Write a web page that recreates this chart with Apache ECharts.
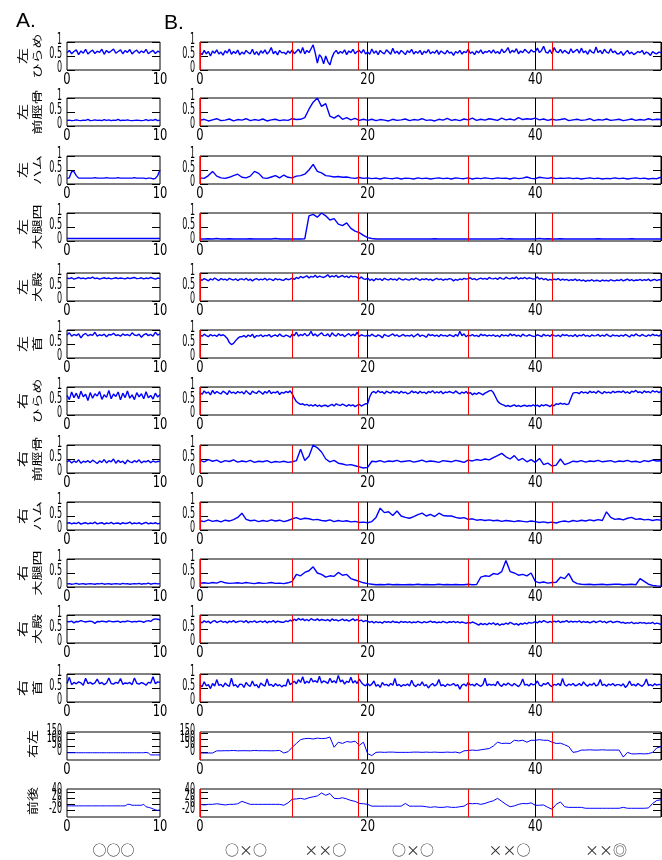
<!DOCTYPE html>
<html><head><meta charset="utf-8">
<script src="https://cdn.jsdelivr.net/npm/echarts@6/dist/echarts.min.js"></script>
<style>html,body{margin:0;padding:0;background:#fff}#c{width:662px;height:860px}</style>
</head><body><div id="c"></div>
<script>
// ---------- data ----------
// left panels: samples every 0.25 s over 0..10 s; right panels: evenly spaced samples over 0..55 s
const spanA = 10, spanB = 55;
const eventTimes = [0, 11, 18.9, 31.95, 41.9];
const segmentLabels = ['○×○', '××○', '○×○', '××○', '××◎'];
const trialLabelA = '○○○';
const rowNames = [['左','ひらめ'],['左','前脛骨'],['左','ハム'],['左','大腿四'],['左','大殿'],['左','首'],
                  ['右','ひらめ'],['右','前脛骨'],['右','ハム'],['右','大腿四'],['右','大殿'],['右','首'],['右左'],['前後']];
const ticksUnit = [0, 0.5, 1];
const ticksSway = [0, 50, 100, 150];
const ticksAP = [-20, 0, 20, 40];
const xTicksA = [0, 10];
const xTicksB = [0, 20, 40];

// left column (A), 41 samples each
const aL1 = [.62,.70,.58,.66,.72,.55,.68,.60,.74,.57,.65,.71,.59,.67,.63,.74,.56,.70,.62,.68,.75,.60,.66,.72,.58,.69,.63,.73,.57,.66,.71,.60,.68,.62,.74,.58,.65,.70,.59,.67,.64];
const aL2 = [.20,.21,.19,.20,.22,.20,.19,.21,.20,.24,.19,.20,.22,.20,.21,.19,.23,.20,.22,.19,.21,.20,.24,.19,.21,.20,.22,.20,.19,.20,.21,.20,.19,.20,.23,.19,.22,.20,.24,.19,.21];
const aL3 = [.20,.22,.45,.44,.30,.21,.21,.21,.21,.21,.21,.21,.23,.21,.21,.21,.21,.23,.21,.21,.21,.21,.23,.21,.21,.21,.21,.21,.21,.23,.21,.21,.21,.21,.19,.21,.21,.18,.20,.30,.50];
const aL4 = [.09,.09,.09,.09,.09,.09,.09,.09,.09,.09,.09,.09,.09,.09,.09,.09,.09,.09,.09,.09,.09,.09,.09,.09,.09,.09,.09,.09,.09,.09,.09,.09,.09,.09,.09,.09,.09,.09,.09,.09,.09];
const aL5 = [.82,.80,.83,.78,.81,.84,.80,.82,.79,.83,.81,.85,.80,.82,.78,.81,.83,.80,.82,.79,.81,.83,.80,.82,.81,.79,.83,.80,.82,.84,.80,.81,.83,.79,.82,.80,.84,.81,.78,.82,.80];
const aL6 = [.82,.90,.78,.84,.80,.86,.72,.83,.88,.79,.84,.81,.92,.78,.83,.80,.85,.76,.84,.82,.88,.80,.83,.78,.86,.81,.84,.79,.90,.82,.80,.85,.74,.83,.87,.80,.84,.78,.92,.82,.86];
const aR1 = [.70,.55,.82,.62,.78,.58,.85,.65,.74,.52,.80,.60,.76,.68,.84,.56,.72,.63,.88,.58,.75,.66,.82,.54,.78,.62,.86,.60,.72,.55,.80,.65,.76,.58,.83,.62,.70,.57,.78,.64,.72];
const aR2 = [.40,.45,.36,.43,.38,.47,.35,.42,.39,.44,.37,.46,.40,.34,.43,.38,.48,.36,.44,.40,.50,.35,.45,.38,.42,.33,.46,.40,.37,.44,.39,.47,.36,.42,.40,.45,.37,.43,.39,.41,.42];
const aR3 = [.24,.26,.22,.25,.23,.27,.21,.24,.26,.22,.25,.23,.28,.22,.24,.26,.21,.25,.23,.27,.22,.24,.25,.21,.26,.23,.24,.28,.22,.25,.23,.26,.21,.24,.27,.22,.25,.23,.26,.22,.24];
const aR4 = [.11,.12,.10,.11,.13,.10,.11,.12,.10,.11,.12,.11,.10,.12,.11,.13,.10,.11,.12,.10,.11,.12,.11,.10,.13,.11,.12,.10,.11,.12,.11,.13,.10,.12,.11,.14,.10,.12,.13,.11,.12];
const aR5 = [.77,.76,.78,.72,.77,.76,.80,.77,.75,.77,.78,.76,.70,.77,.76,.78,.77,.75,.79,.77,.76,.77,.78,.74,.77,.76,.79,.77,.75,.77,.76,.78,.77,.74,.78,.80,.77,.84,.86,.85,.83];
const aR6 = [.66,.88,.62,.70,.65,.72,.68,.60,.85,.66,.70,.64,.68,.82,.65,.70,.62,.68,.86,.66,.64,.70,.67,.84,.63,.68,.66,.70,.62,.86,.67,.64,.69,.66,.60,.70,.68,.90,.65,.72,.70];
const aSway = [-3,-3,-3,-3,-3,-3,-3,-3,-3,-3,-3,-3,-3,-3,-3,-3,-3,-3,-3,-3,-3,-3,-3,-3,-3,-3,-3,-3,-3,-3,-3,-3,-3,-3,0,-5,-20,-20,-20,-20,-20];
const aAP = [-5,-5,-5,-5,-5,-5,-5,-5,-5,-5,-5,-5,-5,-5,-5,-5,-5,-5,-5,-5,-5,-5,-5,-5,-5,-5,0,0,-3,-3,-3,-3,-3,0,-8,-10,-12,-15,-18,-20,-18];

// right column (B): 221 samples (every 0.25 s) for the noisiest traces, 111 samples (every 0.5 s) otherwise
const bL1 = [.62,.55,.70,.58,.66,.50,.68,.60,.72,.57,.64,.53,.69,.61,.75,.56,.66,.59,.71,.54,
 .64,.57,.70,.62,.58,.74,.55,.66,.53,.69,.60,.72,.57,.65,.80,.58,.67,.54,.70,.61,
 .63,.56,.68,.60,.72,.58,.66,.74,.60,.80,.58,.70,.62,.76,.90,.60,.25,.55,.45,.22,
 .50,.30,.18,.45,.62,.70,.58,.66,.60,.72,.55,.68,.62,.74,.58,.66,.70,.60,.73,.57,
 .64,.56,.75,.60,.68,.55,.70,.62,.58,.72,.64,.56,.78,.60,.67,.57,.70,.63,.55,.69,
 .62,.74,.57,.66,.60,.70,.55,.67,.61,.73,.58,.65,.60,.71,.56,.68,.62,.58,.70,.60,
 .64,.52,.66,.60,.70,.57,.66,.62,.74,.59,.65,.55,.68,.61,.72,.58,.66,.63,.70,.60,
 .72,.60,.66,.58,.75,.62,.68,.80,.60,.70,.64,.76,.58,.68,.62,.74,.66,.60,.72,.65,
 .66,.78,.62,.70,.85,.64,.60,.72,.58,.80,.66,.62,.74,.60,.70,.64,.58,.76,.62,.68,
 .74,.60,.78,.62,.68,.56,.72,.64,.60,.82,.62,.70,.58,.74,.64,.60,.76,.62,.68,.58,
 .58,.66,.52,.62,.70,.58,.64,.55,.60,.66,.62,.70,.56,.64,.60,.52,.66,.60,.58,.64, .62];
const bL2 = [.20,.24,.18,.22,.26,.19,.21,.25,.18,.23, .21,.26,.19,.23,.20,.25,.18,.22,.24,.19, .22,.20,.26,.23,.24,.30,.60,.85,1.0,.70, .80,.35,.28,.38,.24,.30,.22,.27,.20,.24, .20,.24,.19,.23,.21,.18,.24,.20,.22,.25, .19,.23,.21,.26,.20,.22,.18,.24,.21,.27, .20,.23,.19,.25,.22,.28,.20,.24,.21,.26, .23,.20,.28,.22,.25,.21,.30,.23,.26,.24, .28,.22,.25,.20,.24,.21,.23,.26,.19,.22, .24,.20,.22,.26,.19,.23,.21,.25,.20,.22, .24,.19,.22,.25,.20,.23,.21,.26,.22,.24, .23];
const bL3 = [.22,.20,.30,.45,.28,.22,.20,.24,.30,.35, .24,.22,.28,.45,.38,.22,.20,.25,.30,.22, .32,.24,.22,.28,.30,.35,.50,.70,.45,.40, .30,.28,.25,.27,.24,.25,.22,.20,.23,.20, .22,.19,.21,.18,.22,.20,.19,.22,.18,.21, .20,.18,.22,.19,.21,.18,.20,.22,.19,.21, .18,.22,.20,.19,.22,.18,.21,.19,.22,.20, .19,.22,.20,.21,.18,.22,.19,.21,.25,.20, .19,.24,.22,.20,.23,.19,.21,.20,.22,.19, .21,.18,.20,.22,.19,.21,.18,.20,.19,.22, .19,.21,.18,.20,.22,.19,.21,.18,.20,.19, .24];
const bL4 = [.07,.07,.08,.07,.09,.07,.07,.08,.07,.07, .07,.07,.08,.07,.07,.07,.07,.07,.09,.07, .07,.07,.07,.07,.07,.08,.90,.95,.85,1.0, .90,.75,.80,.60,.55,.65,.45,.35,.30,.20, .12,.09,.07,.07,.07,.07,.07,.07,.07,.07, .07,.07,.07,.07,.07,.07,.08,.07,.07,.07, .07,.07,.07,.07,.07,.07,.07,.07,.07,.07, .07,.07,.09,.07,.08,.07,.07,.07,.07,.07, .07,.09,.07,.08,.07,.07,.08,.07,.07,.07, .07,.07,.07,.07,.07,.08,.07,.07,.07,.07, .07,.07,.07,.08,.07,.07,.07,.07,.07,.07, .07];
const bL5 = [.78,.74,.80,.76,.72,.79,.75,.82,.77,.73,.80,.76,.78,.74,.81,.77,.75,.79,.73,.78,
 .79,.75,.81,.74,.78,.72,.77,.80,.75,.78,.76,.81,.74,.79,.77,.73,.80,.76,.78,.75,
 .74,.80,.76,.78,.82,.77,.84,.80,.88,.83,.86,.90,.82,.88,.85,.92,.84,.89,.86,.84,
 .88,.94,.85,.90,.86,.92,.84,.88,.91,.85,.89,.83,.90,.86,.88,.84,.80,.86,.79,.77,
 .82,.74,.78,.72,.80,.76,.79,.73,.81,.77,.75,.80,.76,.78,.74,.82,.77,.75,.79,.76,
 .75,.80,.76,.82,.78,.74,.79,.76,.80,.75,.78,.73,.77,.81,.76,.79,.74,.78,.76,.80,
 .78,.72,.77,.74,.79,.76,.81,.78,.80,.83,.77,.80,.75,.79,.82,.78,.81,.77,.84,.80,
 .79,.82,.77,.84,.80,.78,.85,.81,.79,.83,.80,.86,.78,.82,.80,.84,.79,.83,.81,.78,
 .80,.86,.78,.82,.76,.80,.74,.77,.75,.78,.76,.80,.74,.78,.75,.77,.73,.76,.74,.78,
 .73,.76,.72,.75,.70,.74,.72,.76,.71,.74,.73,.70,.75,.72,.74,.71,.76,.73,.72,.75,
 .73,.77,.72,.75,.78,.73,.76,.72,.75,.74,.77,.73,.76,.74,.78,.72,.75,.77,.73,.76, .76];
const bL6 = [.82,.78,.85,.80,.76,.84,.79,.82,.77,.85,.80,.83,.78,.70,.55,.48,.52,.62,.70,.76,
 .76,.80,.74,.82,.77,.85,.72,.80,.78,.83,.76,.81,.79,.84,.75,.80,.82,.77,.86,.79,
 .76,.82,.79,.74,.85,.80,.92,.78,.84,.80,.88,.79,.83,.95,.80,.86,.78,.84,.90,.81,
 .80,.86,.76,.90,.82,.78,.88,.80,.84,.76,.82,.87,.79,.85,.80,.92,.77,.83,.80,.78,
 .82,.78,.85,.80,.76,.83,.79,.72,.84,.80,.77,.82,.86,.79,.83,.76,.80,.84,.78,.81,
 .78,.83,.75,.81,.86,.77,.82,.79,.74,.85,.80,.83,.78,.82,.76,.84,.79,.81,.77,.83,
 .80,.76,.84,.78,.95,.80,.86,.76,.82,.79,.84,.78,.81,.76,.85,.80,.83,.78,.82,.79,
 .83,.77,.81,.75,.84,.79,.82,.78,.86,.80,.84,.78,.82,.76,.85,.80,.78,.83,.80,.77,
 .78,.83,.80,.76,.85,.79,.82,.77,.84,.80,.78,.82,.76,.84,.80,.83,.78,.81,.77,.84,
 .76,.82,.79,.85,.78,.81,.76,.83,.79,.80,.84,.77,.82,.78,.85,.80,.76,.83,.79,.81,
 .77,.82,.78,.84,.80,.75,.83,.79,.86,.81,.78,.84,.80,.77,.83,.79,.85,.80,.82,.78, .84];
const bR1 = [.80,.74,.86,.78,.82,.72,.88,.76,.84,.79,.75,.85,.80,.73,.87,.78,.82,.76,.84,.79,
 .83,.75,.87,.79,.73,.85,.80,.77,.86,.81,.74,.84,.78,.88,.76,.82,.79,.85,.73,.81,
 .78,.84,.80,.86,.76,.60,.48,.42,.38,.40,.35,.38,.33,.36,.32,.37,.31,.35,.30,.34,
 .35,.30,.34,.38,.32,.40,.36,.34,.39,.35,.31,.37,.33,.36,.30,.34,.38,.32,.36,.40,
 .40,.65,.80,.84,.78,.87,.80,.83,.76,.85,.81,.78,.86,.80,.83,.77,.85,.79,.82,.76,
 .78,.86,.80,.83,.77,.85,.79,.82,.76,.84,.80,.87,.78,.83,.79,.85,.76,.82,.80,.84,
 .81,.78,.86,.80,.75,.82,.78,.84,.76,.80,.72,.78,.74,.80,.76,.72,.78,.82,.86,.88,
 .80,.65,.50,.42,.38,.35,.31,.34,.30,.33,.36,.31,.34,.30,.33,.35,.31,.34,.32,.36,
 .32,.35,.30,.36,.33,.37,.34,.30,.36,.33,.40,.38,.42,.39,.41,.37,.40,.60,.78,.80,
 .80,.76,.84,.79,.82,.77,.85,.80,.83,.78,.86,.81,.76,.84,.79,.82,.78,.85,.80,.83,
 .84,.81,.86,.79,.83,.77,.85,.82,.88,.80,.83,.78,.86,.81,.84,.79,.87,.82,.85,.80, .84];
const bR2 = [.45,.40,.48,.42,.46,.38,.44,.41,.47,.39, .43,.40,.45,.38,.42,.40,.44,.37,.41,.39, .42,.38,.40,.44,.85,.45,.60,1.0,.90,.75, .50,.40,.45,.35,.32,.28,.30,.26,.22,.18, .20,.42,.40,.44,.39,.43,.41,.45,.40,.42, .44,.39,.42,.46,.40,.43,.41,.38,.44,.42, .40,.45,.42,.38,.46,.43,.48,.45,.50,.47, .55,.62,.70,.58,.50,.62,.45,.52,.40,.48, .38,.52,.30,.35,.25,.28,.50,.30,.35,.42, .40,.44,.39,.43,.41,.45,.40,.42,.44,.39, .43,.41,.45,.40,.42,.38,.44,.41,.46,.43, .44];
const bR3 = [.33,.30,.36,.31,.34,.29,.35,.32,.37,.45, .60,.38,.33,.35,.30,.34,.31,.36,.32,.35, .30,.34,.40,.44,.38,.42,.40,.36,.38,.34, .32,.36,.30,.34,.31,.33,.29,.31,.27,.28, .26,.30,.45,.78,.62,.65,.52,.68,.50,.45, .42,.48,.55,.60,.50,.56,.48,.60,.52,.50, .50,.45,.42,.44,.38,.40,.35,.37,.34,.36, .33,.35,.31,.34,.32,.30,.33,.31,.29,.32, .30,.27,.29,.26,.28,.25,.30,.32,.29,.34, .31,.35,.32,.36,.33,.37,.34,.65,.45,.38, .40,.36,.42,.45,.38,.40,.36,.38,.34,.37, .35];
const bR4 = [.14,.15,.13,.16,.14,.20,.15,.13,.14,.15, .13,.16,.14,.12,.15,.13,.14,.16,.13,.14, .12,.15,.20,.45,.40,.52,.58,.72,.50,.45, .35,.40,.38,.52,.42,.45,.30,.25,.20,.15, .12,.10,.08,.09,.08,.10,.08,.09,.08,.08, .09,.08,.10,.08,.09,.08,.08,.10,.08,.09, .08,.09,.08,.08,.10,.08,.09,.35,.40,.38, .48,.45,.55,.95,.55,.50,.42,.45,.40,.50, .20,.15,.18,.14,.16,.17,.35,.30,.48,.20, .12,.10,.09,.10,.08,.09,.10,.08,.09,.10, .10,.08,.09,.10,.08,.30,.20,.10,.06,.04, .03];
const bR5 = [.76,.72,.79,.74,.78,.71,.77,.80,.73,.76,.79,.74,.77,.72,.78,.75,.80,.73,.76,.78,
 .78,.74,.80,.72,.77,.75,.79,.73,.76,.78,.74,.79,.72,.77,.75,.80,.73,.78,.76,.74,
 .74,.79,.76,.82,.78,.85,.80,.88,.82,.86,.80,.84,.79,.87,.83,.81,.86,.80,.84,.82,
 .80,.84,.78,.86,.81,.83,.79,.82,.85,.80,.83,.78,.82,.86,.80,.84,.79,.82,.76,.80,
 .78,.74,.77,.72,.76,.73,.75,.71,.77,.74,.76,.73,.78,.74,.75,.72,.77,.74,.76,.73,
 .76,.72,.75,.73,.77,.74,.72,.76,.73,.75,.78,.74,.76,.72,.75,.73,.77,.74,.72,.76,
 .74,.77,.73,.76,.72,.75,.73,.70,.74,.71,.75,.72,.68,.64,.70,.66,.69,.65,.71,.67,
 .72,.65,.70,.63,.68,.66,.71,.67,.74,.70,.66,.69,.64,.70,.67,.72,.68,.74,.71,.73,
 .76,.72,.78,.74,.80,.76,.73,.77,.74,.78,.75,.79,.73,.77,.76,.80,.74,.78,.75,.77,
 .75,.79,.73,.77,.74,.76,.72,.75,.78,.73,.76,.79,.74,.77,.72,.76,.78,.73,.75,.77,
 .76,.72,.74,.70,.73,.71,.75,.69,.72,.70,.74,.71,.73,.69,.72,.70,.74,.68,.71,.69, .66];
const bR6 = [.60,.55,.72,.58,.62,.48,.66,.57,.80,.59,.63,.54,.68,.60,.56,.85,.58,.62,.52,.64,
 .63,.52,.70,.60,.56,.75,.58,.62,.50,.68,.61,.57,.82,.59,.63,.55,.66,.58,.62,.54,
 .60,.57,.82,.62,.68,.74,.65,.80,.70,.90,.66,.74,.68,.85,.72,.76,.70,.92,.68,.75,
 .72,.66,.85,.70,.76,.68,.95,.72,.78,.64,.74,.70,.88,.68,.76,.66,.82,.70,.62,.58,
 .66,.58,.64,.75,.56,.62,.52,.70,.60,.63,.57,.66,.60,.84,.58,.63,.55,.62,.59,.64,
 .57,.78,.61,.55,.64,.59,.72,.58,.62,.50,.60,.66,.57,.63,.80,.58,.62,.55,.64,.60,
 .61,.66,.58,.62,.46,.60,.64,.57,.70,.60,.63,.57,.66,.60,.56,.62,.85,.58,.64,.60,
 .63,.58,.74,.61,.56,.65,.60,.68,.62,.58,.66,.60,.55,.64,.82,.60,.63,.57,.66,.61,
 .64,.75,.60,.57,.66,.62,.70,.59,.55,.63,.60,.66,.58,.84,.62,.57,.64,.60,.66,.58,
 .60,.66,.58,.72,.62,.56,.64,.60,.68,.57,.62,.80,.59,.63,.56,.64,.60,.66,.58,.62,
 .62,.58,.65,.52,.60,.75,.59,.63,.57,.66,.60,.56,.64,.82,.59,.62,.57,.65,.60,.63, .61];
const bSway = [-5,-5,-5,-5,12,12,13,13,15,12, 13,13,12,15,13,13,13,12,13,15, -5,5,40,70,100,108,110,105,112,108, 110,120,40,80,70,85,80,88,55,80, -10,-25,0,2,0,2,2,0,0,0, 0,2,2,0,2,0,2,0,0,2, 0,2,-5,12,15,18,15,20,25,30, 50,80,70,72,70,95,90,95,80,95, 95,100,95,95,80,70,72,60,45,0, 5,18,18,20,18,18,20,18,18,18, 18,-37,0,-12,-12,-10,-12,-10,0,35, 45];
const bAP = [0,-2,0,0,2,0,-2,0,0,2, 10,5,0,0,0,0,0,0,0,0, -3,5,17,18,20,17,22,25,28,38, 30,36,20,19,22,18,13,10,3,2, 0,-6,-6,-6,-6,-6,-6,-6,-6,3, -6,-6,-6,-6,-8,-10,-8,-10,-10,-8, -10,-10,-8,-6,3,2,3,0,3,8, 12,20,10,0,-8,-5,0,3,2,5, -3,-3,-2,-10,-16,0,8,-8,-10,-10, -10,-10,-13,-13,-13,-13,-13,-13,-13,-13, -13,-10,-13,-13,-13,-13,-13,-12,3,13, 15];

const seriesA = [aL1,aL2,aL3,aL4,aL5,aL6,aR1,aR2,aR3,aR4,aR5,aR6,aSway,aAP];
const seriesB = [bL1,bL2,bL3,bL4,bL5,bL6,bR1,bR2,bR3,bR4,bR5,bR6,bSway,bAP];

// ---------- layout / style ----------
const rowTops = [42, 98, 156, 213, 273, 330, 387, 445, 502, 559, 615, 674, 732, 789];
const PANEL_H = 28, A_LEFT = 67, A_W = 93, B_LEFT = 200, B_W = 461;
const numFont = "16px 'DejaVu Sans',sans-serif";
const xNumFont = "16px 'DejaVu Sans',sans-serif";
const jpFamily = "'Noto Sans CJK JP','Noto Sans CJK SC',sans-serif";
const BLUE = '#0000ff';

function yScale(r) {
  if (r === 12) return {min: -60, max: 160, ticks: ticksSway};
  if (r === 13) return {min: -42, max: 51, ticks: ticksAP};
  return {min: 0, max: 1, ticks: ticksUnit};
}

const grid = [], xAxis = [], yAxis = [], series = [], panels = [];
for (let r = 0; r < 14; r++) {
  const ys = yScale(r);
  const single = r >= 12;
  [['A', A_LEFT, A_W], ['B', B_LEFT, B_W]].forEach(([col, left, w]) => {
    const gi = grid.length;
    const isB = col === 'B';
    const span = isB ? spanB : spanA;
    grid.push({left, top: rowTops[r], width: w, height: PANEL_H, show: true,
      borderColor: '#000', borderWidth: 1, backgroundColor: '#fff'});
    xAxis.push({type: 'value', gridIndex: gi, min: 0, max: span, interval: isB ? 20 : 10,
      axisLine: {show: false}, axisTick: {show: false}, axisLabel: {show: false},
      splitLine: {show: isB, lineStyle: {color: '#000', width: 1}}});
    const yBase = {type: 'value', gridIndex: gi, min: ys.min, max: ys.max,
      axisLine: {show: false}, splitLine: {show: false}, axisLabel: {show: false}};
    const tick = {show: true, inside: true, length: 8, customValues: ys.ticks, lineStyle: {color: '#000'}};
    const yi = yAxis.length;
    yAxis.push(Object.assign({}, yBase, {position: 'left', axisTick: tick}),
               Object.assign({}, yBase, {position: 'right', axisTick: tick}));
    const vals = isB ? seriesB[r] : seriesA[r];
    const step = span / (vals.length - 1);
    series.push({type: 'line', xAxisIndex: gi, yAxisIndex: yi, showSymbol: false, silent: true,
      data: vals.map((v, i) => [i * step, v]),
      lineStyle: {color: BLUE, width: single ? 1 : 1.4}, z: 3});
    if (isB) {
      series.push({type: 'custom', xAxisIndex: gi, yAxisIndex: yi, silent: true, z: 6,
        data: eventTimes.map(t => [t, ys.min]),
        renderItem: (params, api) => {
          const t = api.value(0);
          const pTop = api.coord([t, ys.max]);
          const pBot = api.coord([t, ys.min]);
          const xc = 2 * Math.round(pTop[0] / 2) + 0.5;
          return {type: 'line', shape: {x1: xc, y1: pTop[1], x2: xc, y2: pBot[1]},
            style: {stroke: '#ff0000', lineWidth: 1}};
        }});
    }
    panels.push({r, gi, yi, left, top: rowTops[r], ys,
      xTicks: isB ? xTicksB : (r === 12 ? [0] : xTicksA)});
  });
}

const chart = echarts.init(document.getElementById('c'), null, {renderer: 'canvas'});
chart.setOption({animation: false, backgroundColor: '#fff', grid, xAxis, yAxis, series});

// ---------- text: tick labels, row names, panel letters, trial labels ----------
const graphic = [
  {type: 'text', x: 16, y: 11, style: {text: 'A.', font: "21px 'Liberation Sans','DejaVu Sans',sans-serif", fill: '#000'}},
  {type: 'text', x: 164, y: 13, style: {text: 'B.', font: "21px 'Liberation Sans','DejaVu Sans',sans-serif", fill: '#000'}}
];
panels.forEach(p => {
  p.ys.ticks.forEach(v => {
    graphic.push({type: 'text', silent: true, x: p.left - 5, y: chart.convertToPixel({yAxisIndex: p.yi}, v) - 2,
      scaleX: 0.5, style: {text: String(v), font: numFont, fill: '#000', align: 'right', verticalAlign: 'middle'}});
  });
  p.xTicks.forEach(v => {
    graphic.push({type: 'text', silent: true, x: chart.convertToPixel({xAxisIndex: p.gi}, v), y: p.top + PANEL_H + 2,
      scaleX: 0.72, style: {text: String(v), font: xNumFont, fill: '#000', align: 'center', verticalAlign: 'top'}});
  });
});
rowNames.forEach((lines, r) => {
  const cy = rowTops[r] + PANEL_H / 2;
  if (lines.length === 2) {
    graphic.push({type: 'text', silent: true, x: 23, y: cy, rotation: Math.PI / 2, scaleY: 0.7,
      style: {text: lines[0], font: '16px ' + jpFamily, fill: '#000', align: 'center', verticalAlign: 'middle'}});
    graphic.push({type: 'text', silent: true, x: 37.5, y: cy, rotation: Math.PI / 2, scaleY: 0.7,
      style: {text: lines[1], font: '15px ' + jpFamily, fill: '#000', align: 'center', verticalAlign: 'middle'}});
  } else {
    graphic.push({type: 'text', silent: true, x: 32, y: cy - 2, rotation: Math.PI / 2, scaleY: 0.85,
      style: {text: lines[0], font: '14px ' + jpFamily, fill: '#000', align: 'center', verticalAlign: 'middle'}});
  }
});
const lastA = panels.length - 2, lastB = panels.length - 1;
const segEdges = eventTimes.concat([spanB]);
graphic.push({type: 'text', silent: true, x: chart.convertToPixel({xAxisIndex: lastA}, spanA / 2), y: 843,
  style: {text: trialLabelA, font: '14px ' + jpFamily, fill: '#333', align: 'center'}});
segmentLabels.forEach((t, i) => {
  const mid = (segEdges[i] + segEdges[i + 1]) / 2;
  graphic.push({type: 'text', silent: true, x: chart.convertToPixel({xAxisIndex: lastB}, mid), y: 843,
    style: {text: t, font: '14px ' + jpFamily, fill: '#333', align: 'center'}});
});
chart.setOption({graphic});
</script></body></html>
